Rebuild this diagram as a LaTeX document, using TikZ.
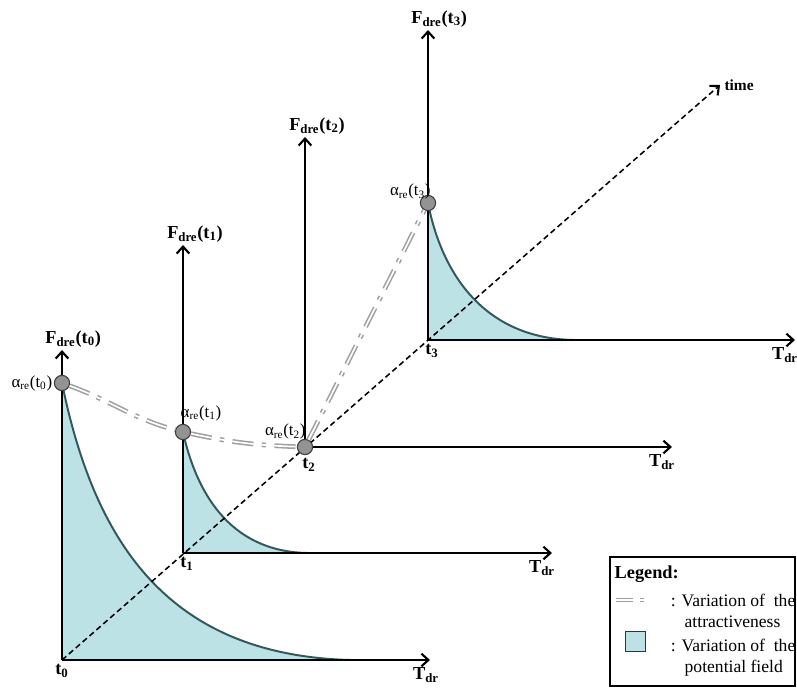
\documentclass[tikz,border=0pt]{standalone}
\usepackage{fontspec}
\setmainfont{Liberation Serif}
\usetikzlibrary{arrows.meta, positioning, calc}
\definecolor{champ}{HTML}{BCE2E5}
\definecolor{bord}{HTML}{2E5A5E}

\begin{document}
\begin{tikzpicture}[x=0.025cm, y=-0.025cm, >={Straight Barb[length=5pt, width=9pt, line width=1.5pt]},
    axe/.style={->, line width=1.8pt},
    courbe/.style={draw=bord, line width=1.4pt},
    alpha/.style={circle, draw=black!75, fill=gray!85, line width=0.8pt, minimum size=0.38cm, inner sep=0pt},
    varia/.style={draw=gray!75, double=white, double distance=1.2pt, line width=1.1pt, dash pattern=on 15pt off 6pt on 3pt off 6pt},
    lab/.style={font=\fontsize{13}{15}\selectfont\bfseries, inner sep=1pt},
    alab/.style={font=\fontsize{12}{14}\selectfont, inner sep=1pt},
    leg/.style={font=\fontsize{12.5}{15}\selectfont, inner sep=1pt}]
  \useasboundingbox (0,0) rectangle (797,688);

  \coordinate (o0) at (62,660);
  \coordinate (o1) at (183,553);
  \coordinate (o2) at (305,447);
  \coordinate (o3) at (428,340);
  \coordinate (v0) at (62,350);
  \coordinate (v1) at (183,245);
  \coordinate (v2) at (305,137);
  \coordinate (v3) at (428,30);
  \coordinate (h0) at (430,660);
  \coordinate (h1) at (552,553);
  \coordinate (h2) at (672,447);
  \coordinate (h3) at (795,340);
  \coordinate (e0) at (350,660);
  \coordinate (e1) at (308,553);
  \coordinate (e3) at (573,340);
  \coordinate (tm) at (720,85);

  \fill[champ] (o0) -- (62,383) .. controls (95,545) and (170,655) .. (e0) -- cycle;
  \fill[champ] (o1) -- (183,432) .. controls (198,500) and (235,552) .. (e1) -- cycle;
  \fill[champ] (o3) -- (428,203) .. controls (442,275) and (485,338) .. (e3) -- cycle;
  \draw[courbe] (62,383) .. controls (95,545) and (170,655) .. (e0);
  \draw[courbe] (183,432) .. controls (198,500) and (235,552) .. (e1);
  \draw[courbe] (428,203) .. controls (442,275) and (485,338) .. (e3);

  \draw[->, dash pattern=on 4pt off 2.5pt, line width=1.1pt] (o0) -- (tm);

  \draw[axe] (o0) -- (v0);
  \draw[axe] (o1) -- (v1);
  \draw[axe] (o2) -- (v2);
  \draw[axe] (o3) -- (v3);
  \draw[axe] (o0) -- (h0);
  \draw[axe] (o1) -- (h1);
  \draw[axe] (o2) -- (h2);
  \draw[axe] (o3) -- (h3);

  \node[alpha] (a0) at (62,383) {};
  \node[alpha] (a1) at (183,432) {};
  \node[alpha] (a2) at (o2) {};
  \node[alpha] (a3) at (428,203) {};

  \draw[varia] (a0) to[out=-20, in=165] (a1) to[out=-12, in=178] (a2) -- (a3);

  \node[lab, above=1pt of v0, xshift=0.28cm] {F\textsubscript{dre}(t\textsubscript{0})};
  \node[lab, above=1pt of v1, xshift=0.3cm] {F\textsubscript{dre}(t\textsubscript{1})};
  \node[lab, above=1pt of v2, xshift=0.3cm] {F\textsubscript{dre}(t\textsubscript{2})};
  \node[lab, above=1pt of v3, xshift=0.28cm] {F\textsubscript{dre}(t\textsubscript{3})};

  \node[alab, left=0pt of a0] {α\textsubscript{re}(t\textsubscript{0})};
  \node[alab, above=1pt of a1, xshift=0.45cm] {α\textsubscript{re}(t\textsubscript{1})};
  \node[alab, above left=0pt and -0.2cm of a2] {α\textsubscript{re}(t\textsubscript{2})};
  \node[alab, above left=-0.1cm and -0.25cm of a3] {α\textsubscript{re}(t\textsubscript{3})};

  \node[lab, below=2pt of o0] {t\textsubscript{0}};
  \node[lab, below=2pt of o1, xshift=0.1cm] {t\textsubscript{1}};
  \node[lab, below=7pt of o2, xshift=0.1cm] {t\textsubscript{2}};
  \node[lab, below=2pt of o3, xshift=0.1cm] {t\textsubscript{3}};

  \node[lab, below=4pt of h0, xshift=-0.1cm] {T\textsubscript{dr}};
  \node[lab, below=4pt of h1, xshift=-0.25cm] {T\textsubscript{dr}};
  \node[lab, below=4pt of h2, xshift=-0.25cm] {T\textsubscript{dr}};
  \node[lab, below=4pt of h3, xshift=-0.25cm] {T\textsubscript{dr}};
  \node[lab, right=2pt of tm, font=\fontsize{11}{13}\selectfont\bfseries] {time};

  \draw[line width=0.8pt] (610,557) rectangle (795,686);
  \node[lab, anchor=west] (leg) at (613,574) {Legend:};
  \coordinate (s1) at (616,600);
  \coordinate (s2) at (650,600);
  \draw[varia, dash pattern=on 12pt off 5pt on 3pt off 5pt] (s1) -- (s2);
  \node[leg, anchor=east] (l1) at (797,600) {: Variation of\hspace{0.5em}the};
  \node[leg, anchor=west] (l2) at (683,622) {attractiveness};
  \node[draw=black!80, fill=champ, minimum size=0.5cm, line width=0.6pt] (sq) at (635,641) {};
  \node[leg, anchor=east] (l3) at (797,645) {: Variation of\hspace{0.5em}the};
  \node[leg, anchor=west] (l4) at (683,668) {potential field};
\end{tikzpicture}
\end{document}
